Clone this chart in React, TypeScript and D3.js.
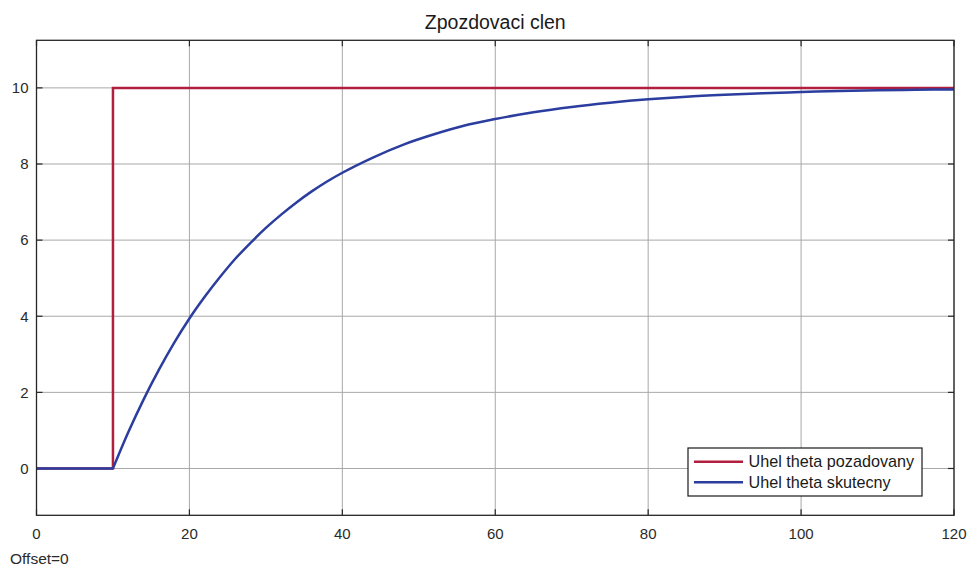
import React from "react";
import * as d3 from "d3";

const title = "Zpozdovaci clen";
const xTicks = [0, 20, 40, 60, 80, 100, 120];
const yTicks = [0, 2, 4, 6, 8, 10];
const seriesNames = ["Uhel theta pozadovany", "Uhel theta skutecny"];

const refTime = [0, 10, 10, 120];
const refValue = [0, 0, 10, 10];

const actTime = [0, 10, 12, 14, 16, 18, 20, 22, 24, 26, 28, 30, 32, 34, 36, 38, 40, 44, 48, 52, 56, 60, 65, 70, 75, 80, 85, 90, 95, 100, 105, 110, 115, 120];
const actValue = [0, 0, 0.95, 1.81, 2.59, 3.3, 3.94, 4.51, 5.03, 5.51, 5.93, 6.32, 6.67, 6.99, 7.28, 7.54, 7.77, 8.17, 8.51, 8.78, 9.01, 9.18, 9.36, 9.5, 9.61, 9.7, 9.77, 9.82, 9.86, 9.89, 9.92, 9.94, 9.95, 9.96];

const W = 970;
const H = 566;
const L = 36.5, R = 954, T = 40.3, B = 515.3;
const FONT = "'Liberation Sans', Arial, Helvetica, sans-serif";
const RED = "#B21F3E";
const BLUE = "#2B3D9E";

export default function App() {
  const x = d3.scaleLinear().domain([0, 120]).range([L, R]);
  const y = d3.scaleLinear().domain([-1.23, 11.25]).range([B, T]);
  const line = d3.line<[number, number]>().x((d) => x(d[0])).y((d) => y(d[1]));
  const curve = d3
    .line<[number, number]>()
    .x((d) => x(d[0]))
    .y((d) => y(d[1]))
    .curve(d3.curveMonotoneX);
  const refPts = refTime.map((t, i) => [t, refValue[i]] as [number, number]);
  const actPts = actTime.map((t, i) => [t, actValue[i]] as [number, number]);
  const stepIdx = actTime.indexOf(10);
  const flatPts = actPts.slice(0, stepIdx + 1);
  const risePts = actPts.slice(stepIdx);
  const tickLen = 6;

  return (
    <svg width={W} height={H} style={{ position: "absolute", left: 0, top: 0, background: "#fff" }}>
      <rect x={0} y={0} width={W} height={H} fill="#fff" />
      {xTicks.map((t) => (
        <line key={"gx" + t} x1={x(t)} x2={x(t)} y1={T} y2={B} stroke="#a8a8a8" strokeWidth={1} />
      ))}
      {yTicks.map((t) => (
        <line key={"gy" + t} x1={L} x2={R} y1={y(t)} y2={y(t)} stroke="#a8a8a8" strokeWidth={1} />
      ))}
      {xTicks.map((t) => (
        <g key={"tx" + t}>
          <line x1={x(t)} x2={x(t)} y1={B} y2={B - tickLen} stroke="#262626" strokeWidth={1.2} />
          <line x1={x(t)} x2={x(t)} y1={T} y2={T + tickLen} stroke="#262626" strokeWidth={1.2} />
          <text x={x(t)} y={539} textAnchor="middle" fontFamily={FONT} fontSize={15} fill="#2a2a2a">
            {t}
          </text>
        </g>
      ))}
      {yTicks.map((t) => (
        <g key={"ty" + t}>
          <line x1={L} x2={L + tickLen} y1={y(t)} y2={y(t)} stroke="#262626" strokeWidth={1.2} />
          <line x1={R} x2={R - tickLen} y1={y(t)} y2={y(t)} stroke="#262626" strokeWidth={1.2} />
          <text x={28.5} y={y(t) + 5.3} textAnchor="end" fontFamily={FONT} fontSize={15} fill="#2a2a2a">
            {t}
          </text>
        </g>
      ))}
      <path d={line(refPts) || ""} fill="none" stroke={RED} strokeWidth={2.5} />
      <path d={line(flatPts) || ""} fill="none" stroke={BLUE} strokeWidth={2.5} />
      <path d={curve(risePts) || ""} fill="none" stroke={BLUE} strokeWidth={2.5} strokeLinejoin="round" />
      <rect x={L} y={T} width={R - L} height={B - T} fill="none" stroke="#262626" strokeWidth={1.3} />
      <text x={(L + R) / 2} y={28.5} textAnchor="middle" fontFamily={FONT} fontSize={19.5} fill="#1a1a1a">
        {title}
      </text>
      <g>
        <rect x={688} y={448} width={234} height={48} fill="#fff" stroke="#1a1a1a" strokeWidth={1.2} />
        {seriesNames.map((name, i) => {
          const cy = 461.7 + i * 20.6;
          return (
            <g key={name}>
              <line x1={694} x2={743} y1={cy} y2={cy} stroke={i === 0 ? RED : BLUE} strokeWidth={2.5} />
              <text x={748.5} y={cy + 5.6} fontFamily={FONT} fontSize={16.2} fill="#1a1a1a">
                {name}
              </text>
            </g>
          );
        })}
      </g>
      <text x={10} y={564} fontFamily={FONT} fontSize={15.5} fill="#2a2a2a">
        Offset=0
      </text>
    </svg>
  );
}
